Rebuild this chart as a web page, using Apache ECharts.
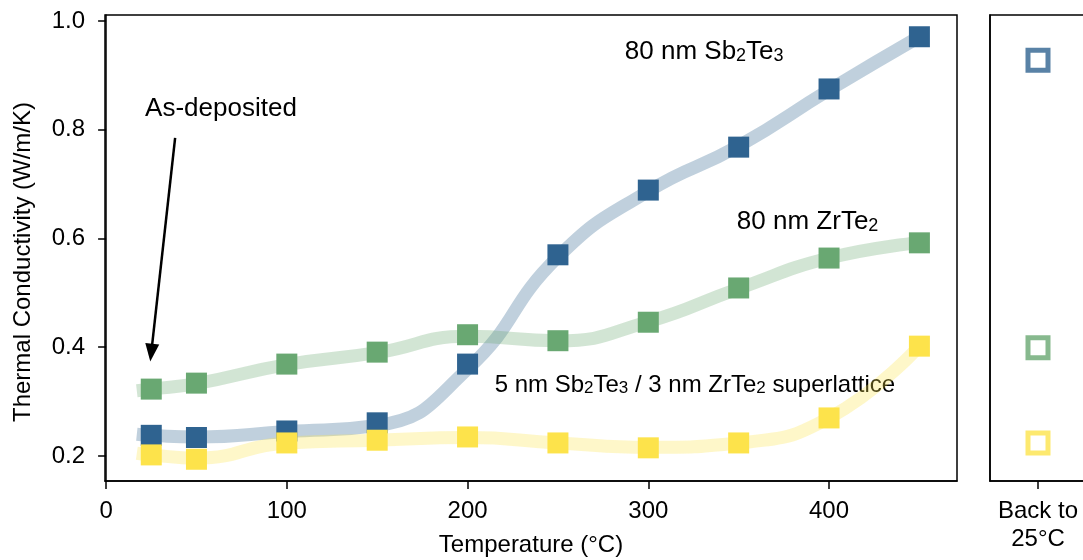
<!DOCTYPE html>
<html><head><meta charset="utf-8">
<script src="https://cdn.jsdelivr.net/npm/echarts@6/dist/echarts.min.js"></script>
<style>html,body{margin:0;padding:0;background:#fff}#c{width:1083px;height:560px}</style>
</head><body><div id="c"></div>
<script>
// ---- data ----
const temps = [25, 50, 100, 150, 200, 250, 300, 350, 400, 450];
const sbTe = [0.238, 0.234, 0.246, 0.261, 0.369, 0.570, 0.689, 0.768, 0.875, 0.971];
const zrTe = [0.323, 0.334, 0.369, 0.391, 0.423, 0.412, 0.446, 0.509, 0.564, 0.592];
const superlattice = [0.202, 0.194, 0.224, 0.229, 0.235, 0.224, 0.215, 0.224, 0.270, 0.402];
// smooth guide curves
const fitTemps = [17, 25, 50, 100, 150, 200, 250, 300, 350, 400, 450];
const sbTeFit = [0.240, 0.238, 0.235, 0.245, 0.256, 0.360, 0.566, 0.687, 0.770, 0.873, 0.971];
const zrTeFit = [0.320, 0.323, 0.333, 0.368, 0.390, 0.420, 0.412, 0.447, 0.508, 0.564, 0.592];
const slFit = [0.205, 0.202, 0.196, 0.224, 0.229, 0.234, 0.224, 0.216, 0.224, 0.270, 0.402];
// "Back to 25°C" panel
const backCategory = ['Back to\n25°C'];
const sbTeBack = [0.928];
const zrTeBack = [0.399];
const slBack = [0.224];
const xTicks = [0, 100, 200, 300, 400];
const yTicks = [0.2, 0.4, 0.6, 0.8, 1.0];

const FONT = '"Liberation Sans", Arial, sans-serif';
const C_SB = '#2f6390', C_ZR = '#69a872', C_SL = '#fde34b';
const pairs = (xs, ys) => xs.map((x, i) => [x, ys[i]]);

const chart = echarts.init(document.getElementById('c'), null, {renderer: 'canvas'});
const axisLine = {show: true, lineStyle: {color: '#000', width: 1.5}};
const tickStyle = {show: true, length: 8, lineStyle: {color: '#000', width: 1.5}};
const labelStyle = {color: '#000', fontSize: 24, fontFamily: FONT};

const fitLine = (data, color) => ({
  type: 'line', xAxisIndex: 0, yAxisIndex: 0, data, smooth: 0.5, showSymbol: false, symbol: 'none',
  lineStyle: {color, width: 13, opacity: 0.3, cap: 'butt'}, z: 1, silent: true
});
const markers = (data, color, extra) => Object.assign({
  type: 'scatter', xAxisIndex: 0, yAxisIndex: 0, data, symbol: 'rect', symbolSize: 21,
  itemStyle: {color, opacity: 1}, z: 3, silent: true
}, extra || {});
const hollow = (data, color) => ({
  type: 'scatter', xAxisIndex: 1, yAxisIndex: 1, data, symbol: 'rect', symbolSize: 20,
  itemStyle: {color: '#fff', borderColor: color, borderWidth: 5}, z: 3, silent: true
});

chart.setOption({
  animation: false,
  backgroundColor: '#fff',
  grid: [
    {left: 105, top: 15, width: 852, height: 466, show: true, borderColor: '#000', borderWidth: 1.5,
     containLabel: false, outerBoundsMode: 'none'},
    {left: 990, top: 15, width: 96, height: 466, show: true, borderColor: '#000', borderWidth: 1.5,
     containLabel: false, outerBoundsMode: 'none'}
  ],
  xAxis: [
    {type: 'value', gridIndex: 0, min: -0.6, max: 470.8, splitLine: {show: false},
     axisLine, axisTick: Object.assign({customValues: xTicks}, tickStyle),
     axisLabel: Object.assign({customValues: xTicks, margin: 18}, labelStyle),
     name: 'Temperature (°C)', nameLocation: 'middle', nameGap: 52,
     nameTextStyle: {color: '#000', fontSize: 24, fontFamily: FONT}},
    {type: 'category', gridIndex: 1, data: backCategory, boundaryGap: true,
     axisLine, axisTick: Object.assign({alignWithLabel: true}, tickStyle),
     axisLabel: Object.assign({margin: 16, lineHeight: 28, interval: 0}, labelStyle)}
  ],
  yAxis: [
    {type: 'value', gridIndex: 0, min: 0.154, max: 1.011, splitLine: {show: false},
     axisLine, axisTick: Object.assign({customValues: yTicks}, tickStyle),
     axisLabel: Object.assign({customValues: yTicks, margin: 20, formatter: v => v.toFixed(1)}, labelStyle),
     name: 'Thermal Conductivity (W/m/K)', nameLocation: 'middle', nameGap: 70, nameRotate: 90,
     nameTextStyle: {color: '#000', fontSize: 24, fontFamily: FONT, padding: [0, 28, 0, 0]}},
    {type: 'value', gridIndex: 1, min: 0.154, max: 1.011, splitLine: {show: false},
     axisLine, axisTick: {show: false}, axisLabel: {show: false}}
  ],
  series: [
    fitLine(pairs(fitTemps, sbTeFit), C_SB),
    fitLine(pairs(fitTemps, zrTeFit), C_ZR),
    fitLine(pairs(fitTemps, slFit), C_SL),
    markers(pairs(temps, sbTe), C_SB, {
      markLine: {
        silent: true, symbol: ['none', 'triangle'], symbolSize: [14, 18],
        lineStyle: {color: '#000', width: 2.5, type: 'solid'}, label: {show: false},
        data: [[{coord: [38.2, 0.785]}, {coord: [25.0, 0.39]}]]
      }
    }),
    markers(pairs(temps, zrTe), C_ZR),
    markers(pairs(temps, superlattice), C_SL),
    hollow(sbTeBack, C_SB),
    hollow(zrTeBack, C_ZR),
    hollow(slBack, C_SL)
  ]
});

// text annotations anchored in data coordinates; {s|..} marks subscripts
const notes = [
  {text: '{a|As-deposited}', at: [21.6, 0.842], size: 26},
  {text: '{a|80 nm Sb}{s|2}{a|Te}{s|3}', at: [287, 0.947], size: 26},
  {text: '{a|80 nm ZrTe}{s|2}', at: [349, 0.634], size: 26},
  {text: '{a|5 nm Sb}{s|2}{a|Te}{s|3}{a| / 3 nm ZrTe}{s|2}{a| superlattice}', at: [215, 0.334], size: 24}
];
chart.setOption({
  graphic: notes.map(n => {
    const p = chart.convertToPixel({gridIndex: 0}, n.at);
    const sub = Math.round(n.size * 0.7);
    return {type: 'text', x: p[0], y: p[1], silent: true,
      style: {text: n.text, fill: '#000', fontFamily: FONT, verticalAlign: 'middle', align: 'left',
        rich: {
          a: {fontSize: n.size, lineHeight: n.size + 4, verticalAlign: 'bottom', fontFamily: FONT, fill: '#000'},
          s: {fontSize: sub, lineHeight: sub - 8, verticalAlign: 'bottom', fontFamily: FONT, fill: '#000'}
        }}};
  })
});
</script></body></html>
